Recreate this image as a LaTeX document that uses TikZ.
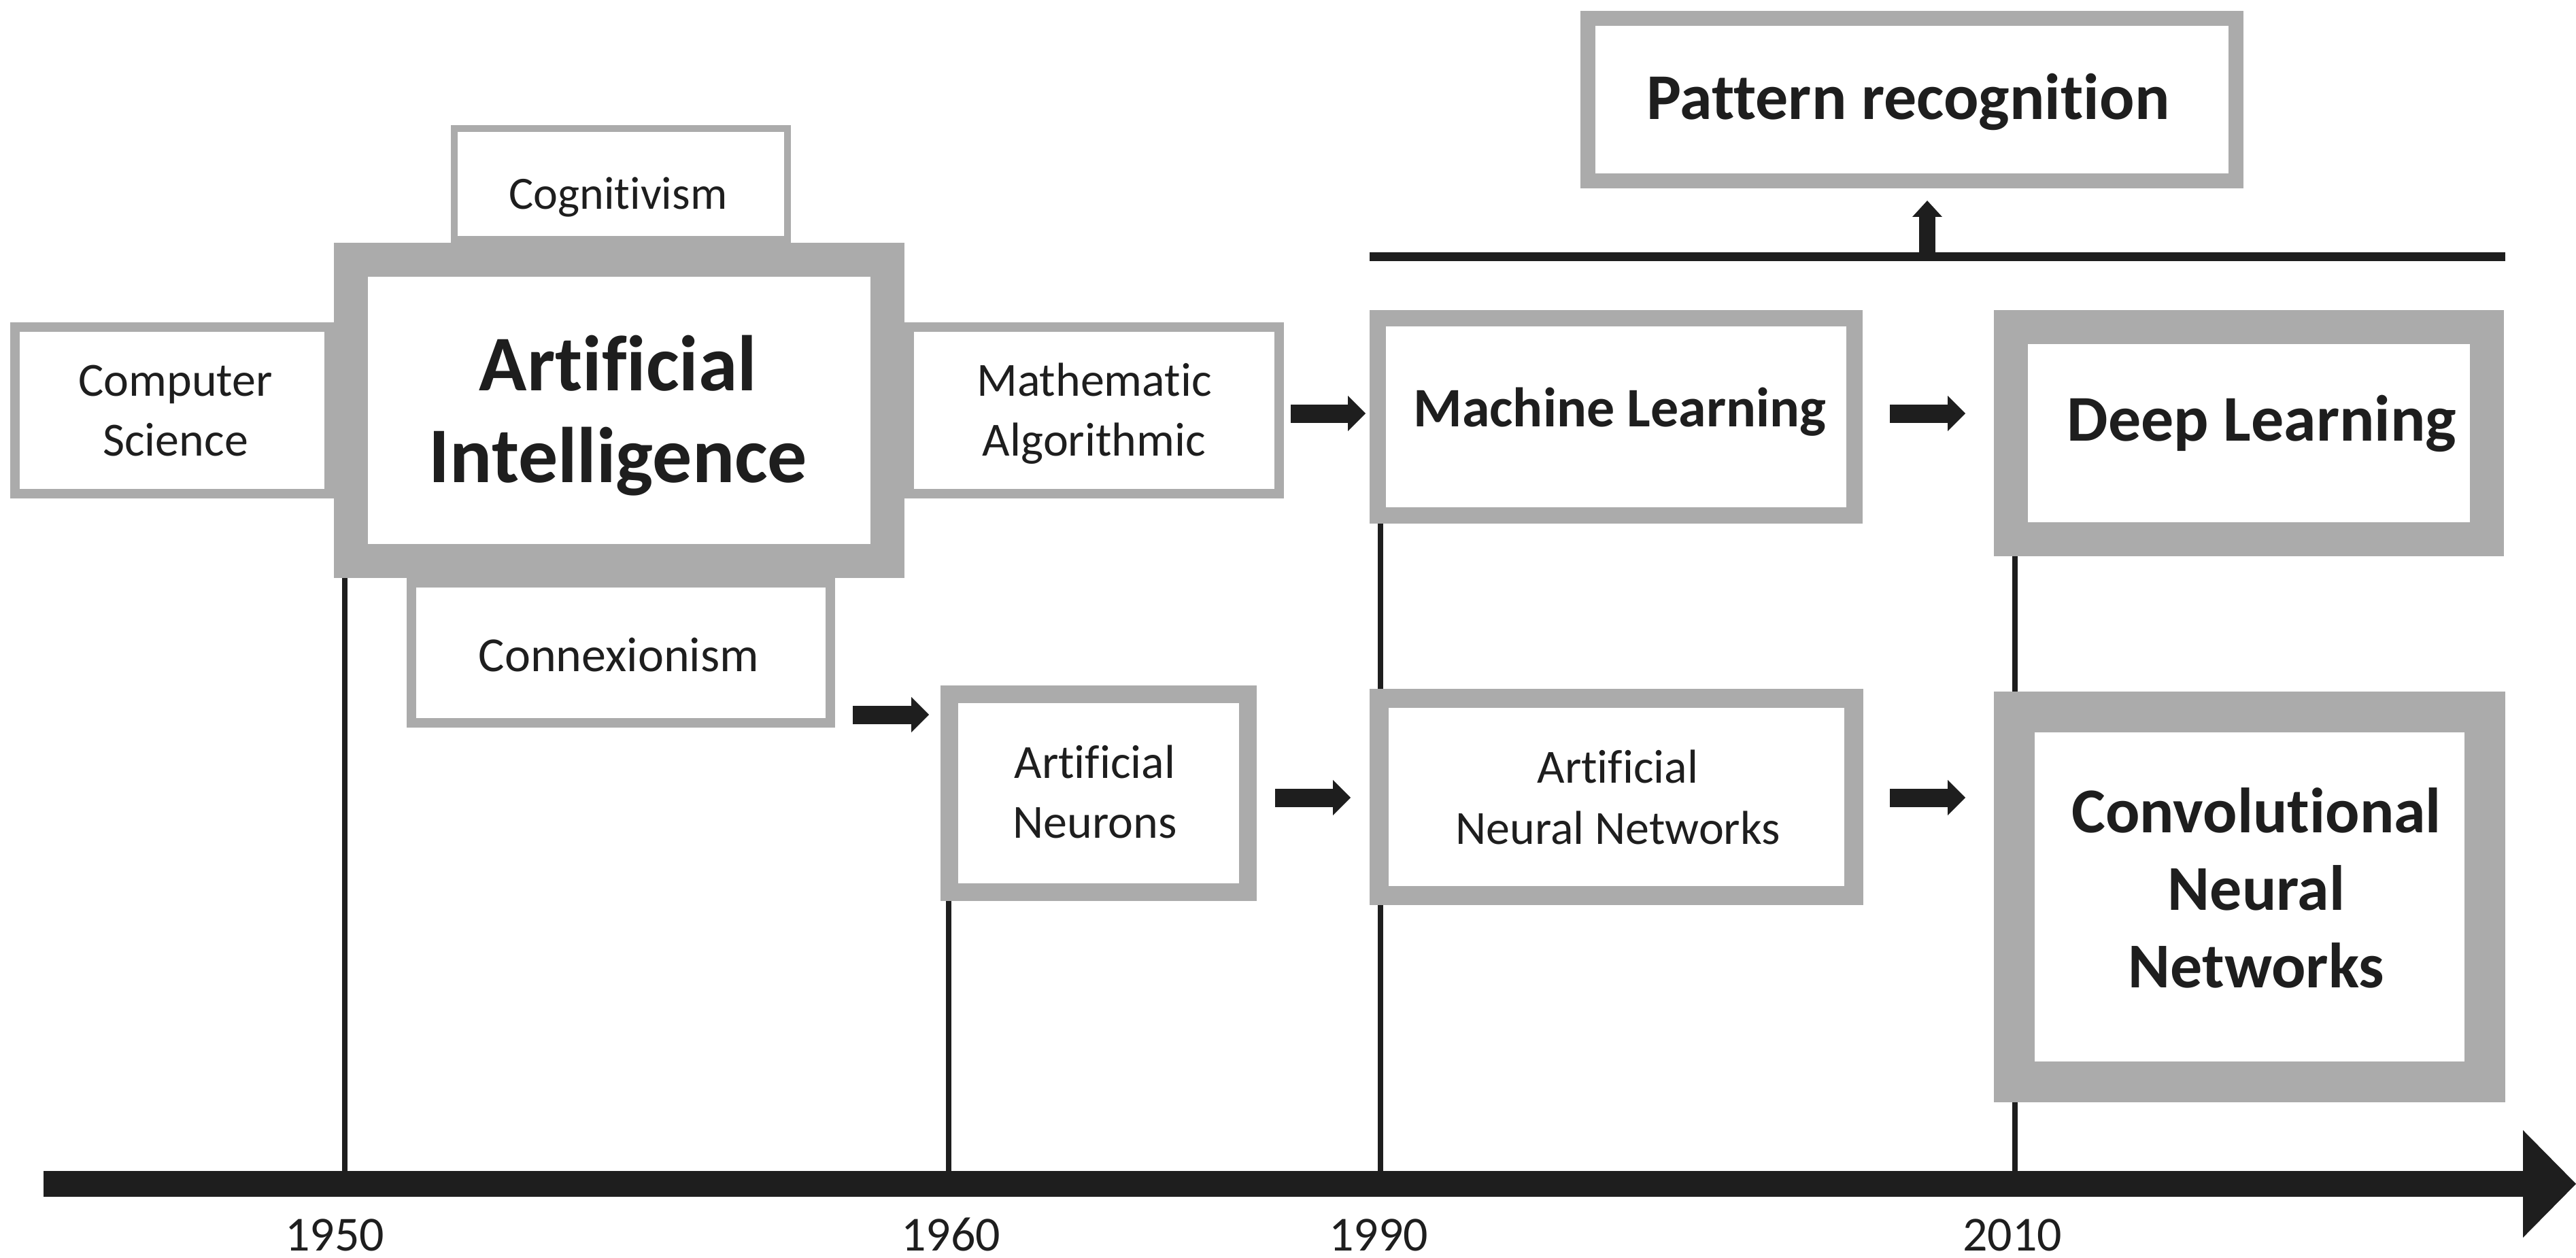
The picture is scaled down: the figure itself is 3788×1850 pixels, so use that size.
\documentclass[tikz,border=0pt]{standalone}
\usepackage{fontspec}
\setmainfont{Carlito}[Ligatures=NoCommon]
\usetikzlibrary{arrows.meta}
\definecolor{gborder}{HTML}{ABABAB}
\definecolor{ink}{HTML}{1E1E1E}
\begin{document}
\begin{tikzpicture}[x=0.25pt,y=-0.25pt,
  box/.style={draw=gborder, fill=white, inner sep=0pt, outer sep=0pt, rectangle},
  reg/.style={font=\fontsize{17.5}{21}\selectfont, text=ink, anchor=base, inner sep=0pt},
  bld/.style={font=\bfseries\fontsize{#1}{#1}\selectfont, text=ink, anchor=base, inner sep=0pt},
  yr/.style={font=\fontsize{18}{21}\selectfont, text=ink, anchor=base, inner sep=0pt},
  blockarrow/.style={draw=ink, line width=6.75pt, -{Triangle[length=6.5pt,width=13pt,line width=0pt]}},
  uparrow/.style={draw=ink, line width=6pt, -{Triangle[length=6pt,width=11pt,line width=0pt]}},
  tick/.style={draw=ink, line width=2.2pt}
]
\useasboundingbox (0,0) rectangle (3788,1850);

% timeline coordinates
\coordinate (tlstart) at (64,1741);
\coordinate (tlend) at (3788,1741);
\coordinate (t1950) at (507,1723);
\coordinate (t1960) at (1395,1723);
\coordinate (t1990) at (2030,1723);
\coordinate (t2010) at (2963,1723);

% box centres
\path (910.5,603.5) coordinate (aiC) (1615.5,1166.5) coordinate (anC)
      (2376.5,613) coordinate (mlC) (3307,637) coordinate (dlC);

% vertical year lines (behind boxes)
\draw[tick] (t1950) -- (t1950 |- 0,840);
\draw[tick] (t1960) -- (t1960 |- 0,1320);
\draw[tick] (t1990) -- (t1990 |- 0,760);
\draw[tick] (t2010) -- (t2010 |- 0,810);

% satellite boxes
\node[box, line width=2.5pt, minimum width=122.5pt, minimum height=40.75pt] (cog) at (913,270.5) {};
\node[box, line width=3.5pt, minimum width=115.5pt, minimum height=61.25pt] (cs) at (253,603.5) {};
\node[box, line width=3.5pt, minimum width=136pt, minimum height=61.25pt] (math) at (1609,603.5) {};
\node[box, line width=3.5pt, minimum width=154pt, minimum height=51.5pt] (conn) at (913,960) {};
% main AI box
\node[box, line width=12.5pt, minimum width=197.25pt, minimum height=110.75pt] (ai) at (aiC) {};

% right boxes
\node[box, line width=5.5pt, minimum width=238.25pt, minimum height=59.75pt] (pr) at (2811.5,146.5) {};
\node[box, line width=6pt, minimum width=175.25pt, minimum height=72.5pt] (ml) at (mlC) {};
\node[box, line width=12.5pt, minimum width=175pt, minimum height=78pt] (dl) at (dlC) {};
\node[box, line width=6.5pt, minimum width=109.75pt, minimum height=72.75pt] (an) at (anC) {};
\node[box, line width=7pt, minimum width=174.5pt, minimum height=72.5pt] (ann) at (2377,1172) {};
\node[box, line width=15pt, minimum width=173pt, minimum height=136pt] (cnn) at (3308,1319) {};

% texts
\node[reg, font=\fontsize{17}{20}\selectfont] (tcog) at (909,308) {Cognitivism};
\node[reg] (tcs1) at (258,583) {Computer};
\node[reg] (tcs2) at (258,670) {Science};
\node[reg] (tmath1) at (1609,583) {Mathematic};
\node[reg] (tmath2) at (1609,670) {Algorithmic};
\node[reg, font=\fontsize{18}{21}\selectfont] (tconn) at (910,987) {Connexionism};
\node[bld=29] (tai1) at (909,574) {Artificial};
\node[bld=29] (tai2) at (909,709) {Intelligence};
\node[bld=24] (tpr) at (2806,176) {Pattern recognition};
\node[bld=20.5] (tml) at (2382,628) {Machine Learning};
\node[bld=24] (tdl) at (3326,648) {Deep Learning};
\node[reg] (tan1) at (1610,1144) {Artificial};
\node[reg] (tan2) at (1610,1232) {Neurons};
\node[reg] (tann1) at (2379,1151) {Artificial};
\node[reg] (tann2) at (2379,1241) {Neural Networks};
\node[bld=23.5] (tcnn1) at (3318,1224) {Convolutional};
\node[bld=23.5] (tcnn2) at (3318,1338) {Neural};
\node[bld=23.5] (tcnn3) at (3318,1452) {Networks};

% block arrows
\draw[blockarrow] ([shift={(17,4.5)}]math.east) -- ([shift={(-18,-5)}]ml.west);
\draw[blockarrow] ([shift={(52,-5)}]ml.east) -- ([shift={(-67,-29)}]dl.west);
\draw[blockarrow] ([shift={(33,91)}]conn.east) -- ([shift={(-30,-115.5)}]an.west);
\draw[blockarrow] ([shift={(40,6.5)}]an.east) -- ([shift={(-42,1)}]ann.west);
\draw[blockarrow] ([shift={(53,1)}]ann.east) -- ([shift={(-72,-146)}]cnn.west);

% pattern recognition bracket
\coordinate (hl1) at (2014,377.5);
\coordinate (hl2) at (3684,377.5);
\coordinate (upbase) at (2834,377.5);
\draw[draw=ink, line width=3.25pt] (hl1) -- (hl2);
\draw[uparrow] (upbase) -- (upbase |- 0,295);

% timeline
\draw[draw=ink, line width=9.5pt, -{Triangle[length=19.5pt,width=39.5pt,line width=0pt]}] (tlstart) -- (tlend);

% years
\node[yr] (y1950) at (492,1839) {1950};
\node[yr] (y1960) at (1398,1839) {1960};
\node[yr] (y1990) at (2027,1839) {1990};
\node[yr] (y2010) at (2959,1839) {2010};
\end{tikzpicture}
\end{document}
